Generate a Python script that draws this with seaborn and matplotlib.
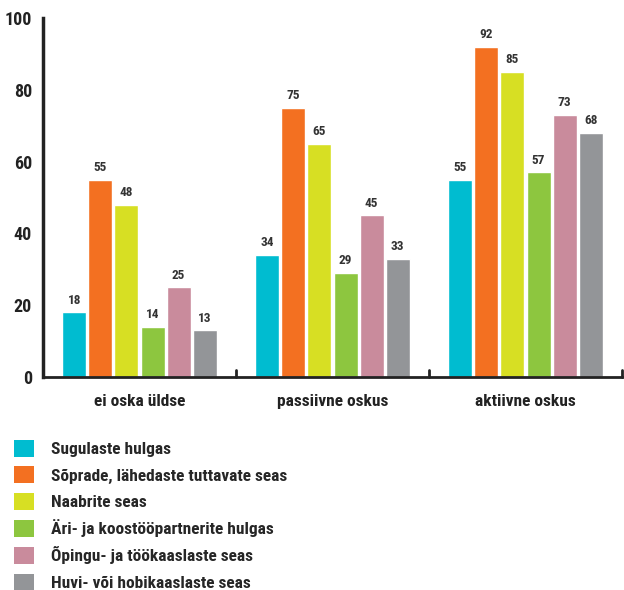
import matplotlib
matplotlib.use("Agg")
import matplotlib.pyplot as plt
import seaborn as sns
import pandas as pd
from matplotlib.patches import Patch

categories = ["ei oska üldse", "passiivne oskus", "aktiivne oskus"]
series_names = [
    "Sugulaste hulgas",
    "Sõprade, lähedaste tuttavate seas",
    "Naabrite seas",
    "Äri- ja koostööpartnerite hulgas",
    "Õpingu- ja töökaaslaste seas",
    "Huvi- või hobikaaslaste seas",
]
sugulased = [18, 34, 55]
sobrad = [55, 75, 92]
naabrid = [48, 65, 85]
partnerid = [14, 29, 57]
kaaslased = [25, 45, 73]
hobikaaslased = [13, 33, 68]
series_values = [sugulased, sobrad, naabrid, partnerid, kaaslased, hobikaaslased]
colors = ["#00BCD0", "#F37021", "#D7DF23", "#8DC63F", "#C98B9C", "#939598"]
y_ticks = [0, 20, 40, 60, 80, 100]

sns.set_style("white")
plt.rcParams["font.family"] = ["Roboto Condensed", "DejaVu Sans"]
plt.rcParams["font.weight"] = "bold"

rows = []
for name, vals in zip(series_names, series_values):
    for c, v in zip(categories, vals):
        rows.append({"kategooria": c, "väärtus": v, "rühm": name})
df = pd.DataFrame(rows)

fig = plt.figure(figsize=(6.24, 5.90), dpi=100)
ax = fig.add_axes([43 / 624, 1 - 377 / 590, (622 - 43) / 624, (377 - 18) / 590])

sns.barplot(data=df, x="kategooria", y="väärtus", hue="rühm",
            hue_order=series_names, order=categories,
            palette=colors, width=0.81, gap=0.08, ax=ax, legend=False,
            saturation=1)

for cont in ax.containers:
    ax.bar_label(cont, padding=4, fontsize=9.5, color="#333333", fontweight="bold")

ax.set_ylim(0, 100)
ax.set_xlim(-0.5, 2.5)
ax.set_yticks(y_ticks)
ax.set_yticklabels([str(t) for t in y_ticks], fontsize=13, color="#222222")
ax.set_xticks([0, 1, 2])
ax.set_xticklabels(categories, fontsize=12.5, color="#222222")
ax.tick_params(axis="x", length=0, pad=12)
ax.tick_params(axis="y", direction="in", length=10, width=2.5, color="#222222", pad=8)
for x in [0.5, 1.5, 2.5]:
    ax.plot([x, x], [0, 2], color="#222222", lw=2, clip_on=False)
ax.set_xlabel("")
ax.set_ylabel("")
for s in ["top", "right"]:
    ax.spines[s].set_visible(False)
ax.spines["left"].set_linewidth(2.5)
ax.spines["left"].set_color("#222222")
ax.spines["bottom"].set_linewidth(2)
ax.spines["bottom"].set_color("#222222")

handles = [Patch(facecolor=c, edgecolor="none") for c in colors]
fig.legend(handles, series_names, loc="upper left",
           bbox_to_anchor=(0.012, 1 - 433 / 590), frameon=False,
           fontsize=12.5, handlelength=1.1, handleheight=1.1,
           handletextpad=1.0, labelspacing=0.53, borderaxespad=0)

fig.savefig("out.png", dpi=100)
